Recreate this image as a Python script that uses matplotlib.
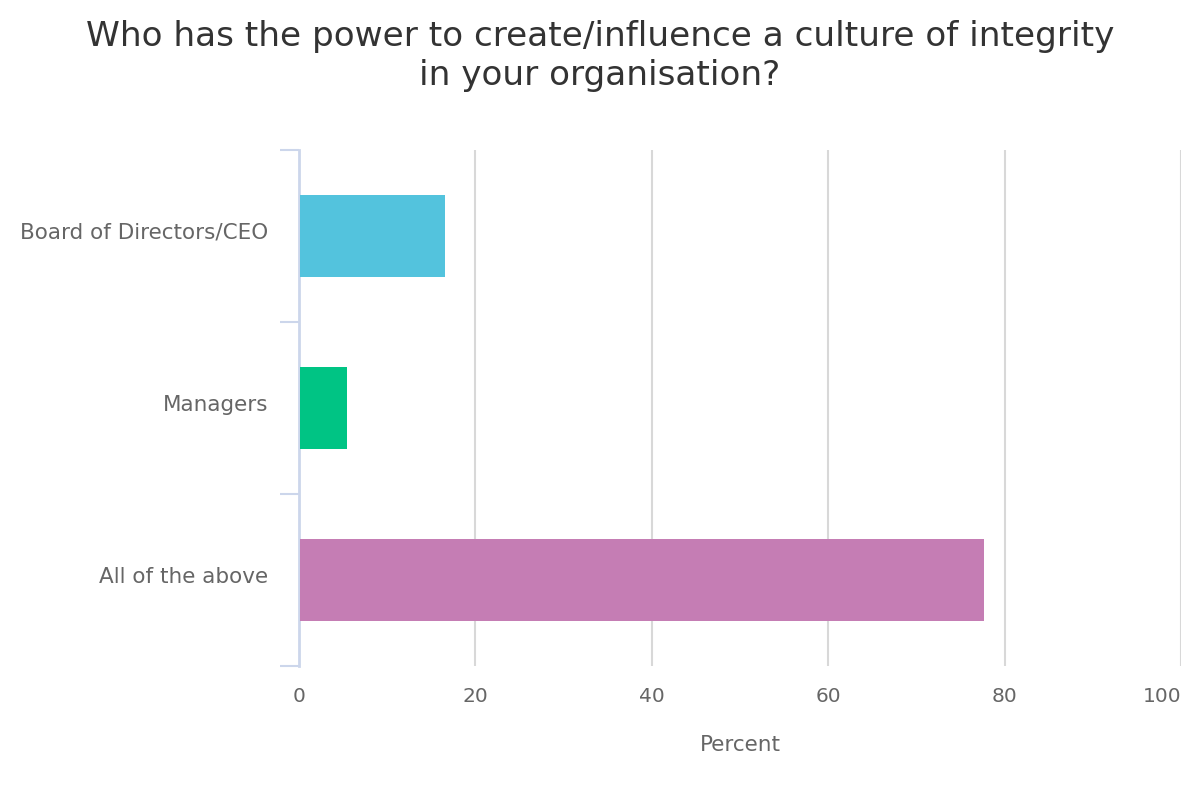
import matplotlib
matplotlib.use("Agg")
import matplotlib.pyplot as plt
import matplotlib.transforms as mtransforms
import numpy as np

categories = ["Board of Directors/CEO", "Managers", "All of the above"]
values = [16.4, 5.3, 77.5]
colors = ["#53c3dd", "#00c484", "#c57db4"]
xticks = [0, 20, 40, 60, 80, 100]
title = "Who has the power to create/influence a culture of integrity\nin your organisation?"

plt.rcParams['font.family'] = ['DejaVu Sans']
fig = plt.figure(figsize=(12, 8), dpi=100)
ax = fig.add_axes([299/1200, 1-666/800, (1181-299)/1200, (666-150)/800])

y = np.arange(len(categories))
ax.barh(y, values, height=0.48, color=colors, zorder=3, left=0.12)
ax.set_xlim(0, 100)
ax.set_ylim(2.5, -0.5)

ax.set_xticks(xticks)
ax.set_xticklabels([str(t) for t in xticks])
ax.get_xticklabels()[-1].set_horizontalalignment('right')
ax.grid(axis='x', color='#d8d8d8', linewidth=1.5, zorder=0)
ax.set_axisbelow(True)

ax.set_yticks(y)
ax.set_yticklabels(categories)
ax.set_yticks([-0.5, 0.5, 1.5, 2.5], minor=True)
ax.tick_params(axis='y', which='major', length=0, pad=22, labelsize=15.5, labelcolor='#666666')
ax.tick_params(axis='y', which='minor', length=14, width=1.5, color='#ccd6eb', direction='out')
ax.tick_params(axis='x', length=0, pad=15, labelsize=14.5, labelcolor='#666666')

offset = mtransforms.ScaledTranslation(0, 5/100, fig.dpi_scale_trans)
for lab in ax.get_yticklabels():
    lab.set_transform(lab.get_transform() + offset)

for s in ['top', 'right', 'bottom']:
    ax.spines[s].set_visible(False)
ax.spines['left'].set_color('#ccd6eb')
ax.spines['left'].set_linewidth(2)

ax.set_xlabel("Percent", fontsize=15.5, color='#666666', labelpad=21)
fig.text(0.5, 1-56/800, title, ha='center', va='center', fontsize=24.7, color='#333333', linespacing=1.25)

fig.savefig("out.png", dpi=100, facecolor='white')
